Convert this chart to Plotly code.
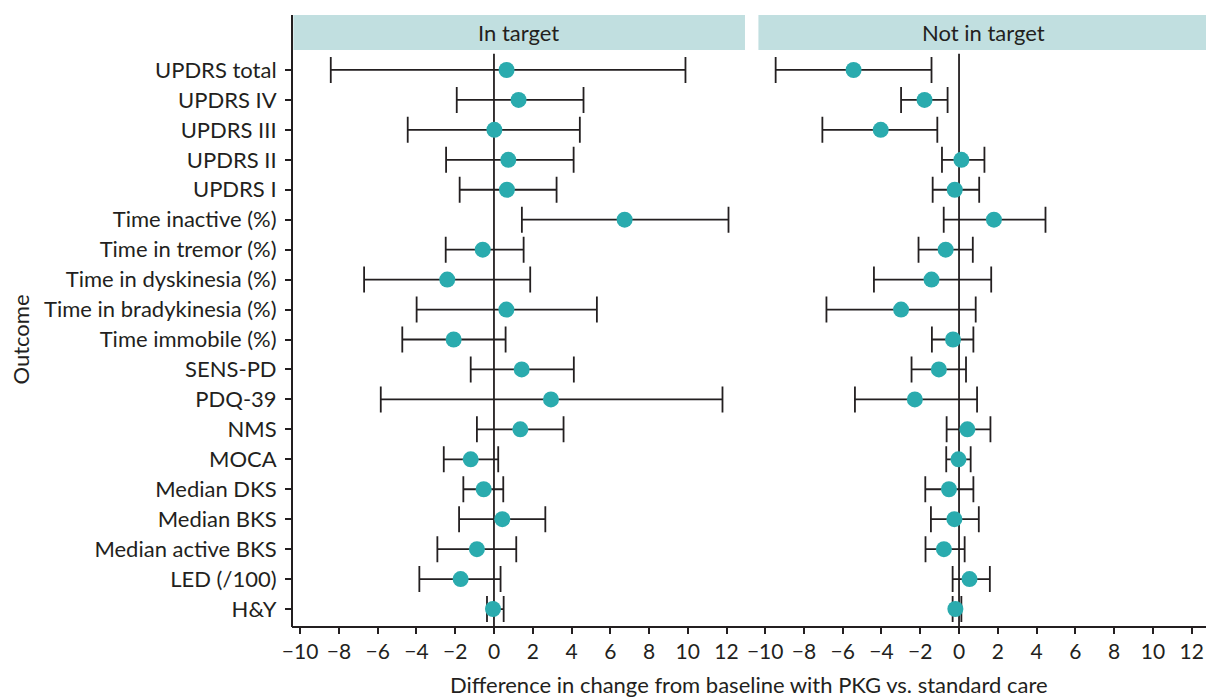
import plotly.graph_objects as go

outcomes = ["UPDRS total", "UPDRS IV", "UPDRS III", "UPDRS II", "UPDRS I",
            "Time inactive (%)", "Time in tremor (%)", "Time in dyskinesia (%)",
            "Time in bradykinesia (%)", "Time immobile (%)", "SENS-PD", "PDQ-39",
            "NMS", "MOCA", "Median DKS", "Median BKS", "Median active BKS",
            "LED (/100)", "H&Y"]

in_est = [0.65, 1.27, 0.02, 0.74, 0.67, 6.74, -0.58, -2.41, 0.64, -2.08,
          1.43, 2.94, 1.36, -1.20, -0.53, 0.43, -0.88, -1.72, -0.05]
in_lo = [-8.42, -1.92, -4.45, -2.47, -1.77, 1.44, -2.49, -6.70, -3.99, -4.73,
         -1.20, -5.84, -0.88, -2.59, -1.58, -1.80, -2.92, -3.85, -0.36]
in_hi = [9.88, 4.62, 4.43, 4.11, 3.23, 12.10, 1.53, 1.87, 5.31, 0.60,
         4.12, 11.79, 3.59, 0.22, 0.48, 2.65, 1.15, 0.34, 0.50]

not_est = [-5.44, -1.78, -4.04, 0.12, -0.22, 1.80, -0.69, -1.42, -2.99, -0.31,
           -1.04, -2.28, 0.43, -0.03, -0.52, -0.24, -0.78, 0.54, -0.19]
not_lo = [-9.46, -2.99, -7.05, -0.88, -1.36, -0.79, -2.09, -4.39, -6.84, -1.40,
          -2.45, -5.37, -0.64, -0.66, -1.74, -1.45, -1.73, -0.33, -0.33]
not_hi = [-1.42, -0.59, -1.12, 1.31, 1.04, 4.46, 0.71, 1.66, 0.86, 0.74,
          0.36, 0.93, 1.62, 0.60, 0.74, 1.02, 0.29, 1.59, 0.12]

panels = ["In target", "Not in target"]
x_ticks = [-10, -8, -6, -4, -2, 0, 2, 4, 6, 8, 10, 12]

TEAL = "#2aabae"
INK = "#231f20"
STRIP = "#c1dfe0"
FONT = "Lato, 'Open Sans', sans-serif"

fig = go.Figure()

def add_panel(est, lo, hi, xa, ya):
    fig.add_trace(go.Scatter(
        x=est, y=outcomes, xaxis=xa, yaxis=ya, mode="markers",
        marker=dict(color=TEAL, size=16, line=dict(width=0)),
        error_x=dict(type="data", symmetric=False,
                     array=[h - e for h, e in zip(hi, est)],
                     arrayminus=[e - l for e, l in zip(est, lo)],
                     color=INK, thickness=1.8, width=13),
        showlegend=False, hoverinfo="skip"))

add_panel(in_est, in_lo, in_hi, "x", "y")
add_panel(not_est, not_lo, not_hi, "x2", "y2")

PLOT_H = 575
xcommon = dict(tickvals=x_ticks, showgrid=False, zeroline=False,
               showline=False, ticks="outside", ticklen=6, tickwidth=1.5,
               tickcolor=INK, tickfont=dict(size=21, color=INK, family=FONT))

fig.update_layout(
    width=1206, height=697,
    margin=dict(l=292, r=0, t=52, b=70),
    paper_bgcolor="white", plot_bgcolor="white",
    font=dict(family=FONT, color=INK, size=22),
    xaxis=dict(domain=[0, 0.4956], range=[-10.42, 12.95], **xcommon),
    xaxis2=dict(domain=[0.5088, 1.0], range=[-10.42, 12.74], anchor="y2", **xcommon),
    yaxis=dict(type="category", categoryarray=outcomes[::-1],
               range=[-0.6, 18.6], showgrid=False, zeroline=False,
               showline=False, ticks="outside", ticklen=6, tickwidth=1.5,
               tickcolor=INK, ticklabelstandoff=4,
               tickfont=dict(size=22, color=INK, family=FONT)),
    yaxis2=dict(type="category", categoryarray=outcomes[::-1], matches="y",
                range=[-0.6, 18.6], anchor="x2", showticklabels=False,
                showgrid=False, zeroline=False, showline=False, ticks=""),
)

# zero reference lines
for xr, yr in (("x", "y"), ("x2", "y2")):
    fig.add_shape(type="line", xref=xr, yref=yr + " domain", x0=0, x1=0,
                  y0=0, y1=0.997, line=dict(color=INK, width=1.8), layer="below")

# strips and labels
doms = [[0, 0.4956], [0.5088, 1.0]]
top0 = 1 + 2 / PLOT_H
top1 = 1 + 37 / PLOT_H
for (d0, d1), name in zip(doms, panels):
    fig.add_shape(type="rect", xref="paper", yref="paper", x0=d0 + 0.0015, x1=d1,
                  y0=top0, y1=top1, fillcolor=STRIP, line=dict(width=0), layer="below")
    cx = (d0 + d1) / 2 if d0 == 0 else (d0 + d0 + 0.4956) / 2
    fig.add_annotation(xref="paper", yref="paper", x=cx, y=(top0 + top1) / 2,
                       text=name, showarrow=False, font=dict(size=22, color=INK),
                       xanchor="center", yanchor="middle")

# left axis line (extends through strip) and bottom axis line
fig.add_shape(type="line", xref="paper", yref="paper", x0=0, x1=0, y0=0, y1=top1,
              line=dict(color=INK, width=2))
fig.add_shape(type="line", xref="paper", yref="paper", x0=0, x1=1, y0=0, y1=0,
              line=dict(color=INK, width=2))

# axis titles
fig.add_annotation(xref="paper", yref="paper", x=0.5, y=-57 / PLOT_H, yanchor="middle",
                   text="Difference in change from baseline with PKG vs. standard care",
                   showarrow=False, font=dict(size=22, color=INK))
fig.add_annotation(xref="paper", yref="paper", x=(20 - 292) / 914, y=0.5,
                   xanchor="center", yanchor="middle", textangle=-90,
                   text="Outcome", showarrow=False, font=dict(size=22, color=INK))

fig.write_html("out.html")
